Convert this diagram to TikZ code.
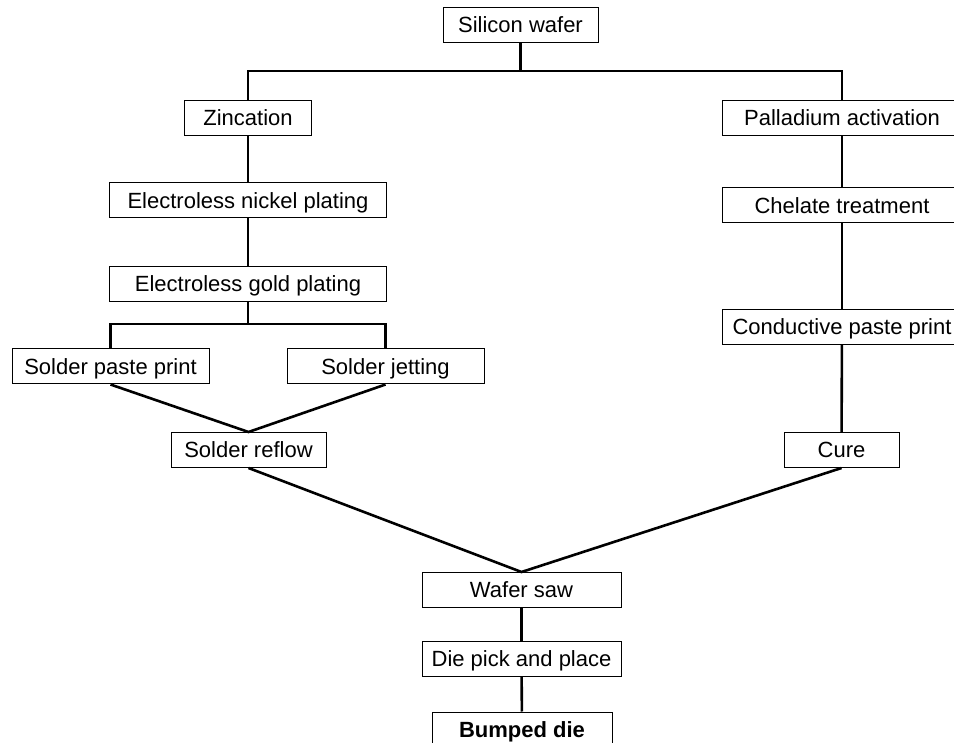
\documentclass[tikz,border=0pt]{standalone}
\usepackage{fontspec}
\setmainfont{Liberation Sans}
\usetikzlibrary{positioning}
\usetikzlibrary{calc}

\begin{document}
\begin{tikzpicture}[x=0.5pt,y=-0.5pt,
  box/.style={draw,fill=white,line width=0.5pt,inner sep=0pt,
    minimum height=17.5pt,text height=7.9pt,text depth=0pt,
    font=\fontsize{11}{13}\selectfont},
  link/.style={line width=1.3pt}]
\useasboundingbox (0,0) rectangle (954,743);

% start
\node[box,minimum width=77.5pt] (wafer) at (520.5,25) {Silicon wafer};
\coordinate (split) at (520.5,71);

% left route
\node[box,minimum width=63.5pt] (zinc) at (248,118) {Zincation};
\node[box,minimum width=138.5pt] (nickel) at (248,200.5) {Electroless nickel plating};
\node[box,minimum width=138.5pt] (gold) at (248,284) {Electroless gold plating};
\coordinate (gsplit) at (248,324);
\node[box,minimum width=98.5pt] (paste) at (110.5,366.5) {Solder paste print};
\node[box,minimum width=98.5pt] (jet) at (385.5,366.5) {Solder jetting};
\node[box,minimum width=77.5pt] (reflow) at (248.5,450) {Solder reflow};

% right route
\node[box,minimum width=120pt] (pd) at (842,118) {Palladium activation};
\node[box,minimum width=120pt] (chelate) at (842,205.5) {Chelate treatment};
\node[box,minimum width=120pt] (cond) at (842,327) {Conductive paste print};
\node[box,minimum width=57.5pt] (cure) at (841.5,450) {Cure};

% end
\node[box,minimum width=99.5pt] (saw) at (521.5,590) {Wafer saw};
\node[box,minimum width=99.5pt] (pick) at (521.5,659) {Die pick and place};
\node[box,minimum width=90pt] (bumped) at (522,729.5) {\textbf{Bumped die}};

% connectors
\draw[link] (wafer) -- (split);
\draw[link] (zinc.north) |- (split) -| (pd.north);
\draw[link] (zinc) -- (nickel);
\draw[link] (nickel) -- (gold);
\draw[link] (gold) -- (gsplit);
\draw[link] (paste.north) |- (gsplit) -| (jet.north);
\draw[link] (paste.south) -- (reflow.north) -- (jet.south);
\draw[link] (pd) -- (chelate);
\draw[link] (chelate) -- (cond);
\draw[link] (cond) -- (cure);
\draw[link] (reflow.south) -- (saw.north) -- (cure.south);
\draw[link] (saw) -- (pick);
\draw[link] (pick) -- (bumped);

\end{tikzpicture}
\end{document}
